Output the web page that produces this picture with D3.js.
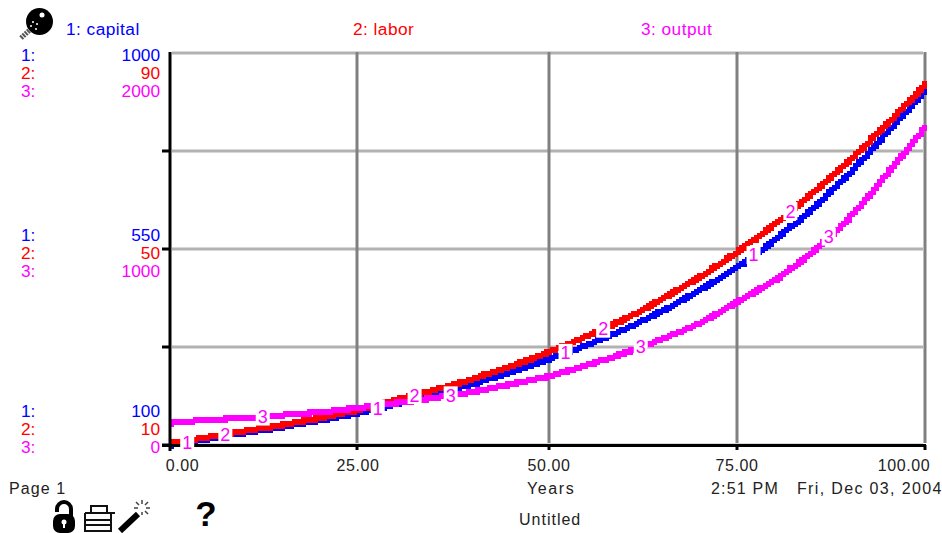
<!DOCTYPE html>
<html>
<head>
<meta charset="utf-8">
<script src="https://cdn.jsdelivr.net/npm/d3@7"></script>
<style>
    html, body { margin: 0; padding: 0; background: #fff; }
    svg { display: block; }
    text { font-family: "Liberation Sans", Arial, sans-serif; font-size: 17.3px; }
</style>
</head>
<body>
<script>
const years = [0, 5, 10, 15, 20, 25, 30, 35, 40, 45, 50, 55, 60, 65, 70, 75, 80, 85, 90, 95, 100];
const capital = [100, 114, 128, 141, 157, 173, 194, 217, 240, 268, 297, 330, 366, 408, 456, 509, 571, 644, 725, 819, 915];
const labor = [10.4, 11.6, 12.9, 14.1, 15.5, 17.1, 19.2, 21.2, 23.5, 26.1, 29.0, 32.2, 35.7, 39.8, 44.3, 49.4, 55.1, 61.4, 68.2, 75.7, 83.5];
const output = [112, 128, 138, 153, 168, 189, 214, 240, 270, 311, 352, 408, 469, 541, 622, 730, 842, 985, 1163, 1388, 1622];

const seriesNames = ['capital', 'labor', 'output'];
const seriesColors = ['#0000ff', '#ff0000', '#ff00ff'];
const seriesDomains = [[100, 1000], [10, 90], [0, 2000]];
const seriesValues = [capital, labor, output];
const axisLabels = [['1000', '550', '100'], ['90', '50', '10'], ['2000', '1000', '0']];
const xTicks = [0, 25, 50, 75, 100];
const yFractions = [0, 0.25, 0.5, 0.75, 1];
// the curve number is printed on its own line, one pass of 1 2 3 every 25 years
const markerYears = [[2.3, 27.7, 52.2, 77.2], [7.4, 32.5, 57.2, 82.1], [12.4, 37.2, 62.2, 87.2]];

const width = 942, height = 533;
const svg = d3.select('body').append('svg').attr('width', width).attr('height', height);

// the grid of the original is a few pixels off even spacing
const x = d3.scaleLinear().domain(xTicks).range([170, 357, 549, 737, 925]);
const yFrac = d3.scaleLinear().domain([0, 1]).range([445, 53]);
const yScales = seriesDomains.map(d => d3.scaleLinear().domain(d).range([445, 53]));

// grid
svg.append('g').selectAll('line')
    .data(yFractions)
    .enter().append('line')
    .attr('x1', 172).attr('x2', 923)
    .attr('y1', d => yFrac(d)).attr('y2', d => yFrac(d))
    .attr('stroke', '#b2b2b2').attr('stroke-width', 3);

svg.append('g').selectAll('line')
    .data(xTicks.slice(1))
    .enter().append('line')
    .attr('x1', d => x(d)).attr('x2', d => x(d))
    .attr('y1', 52).attr('y2', 443)
    .attr('stroke', '#808080').attr('stroke-width', 3);

// curves: walk the line and stamp a square pen, that gives the stairs of the original
const penW = 5, penH = 6;
function penPath(lineD) {
    const tmp = svg.append('path').attr('d', lineD);
    const node = tmp.node();
    const total = node.getTotalLength();
    let d = '';
    for (let l = 0; l <= total; l += 2) {
        const p = node.getPointAtLength(l);
        const px = Math.round(p.x / 3) * 3;
        const py = Math.round(p.y / 2) * 2;
        d += `M${px - penW / 2} ${py - penH / 2}h${penW}v${penH}h${-penW}z`;
    }
    tmp.remove();
    return d;
}

seriesValues.forEach((values, s) => {
    const line = d3.line()
        .x((d, i) => x(years[i]))
        .y(d => yScales[s](d))
        .curve(d3.curveMonotoneX);
    svg.append('path')
        .attr('d', penPath(line(values)))
        .attr('fill', seriesColors[s])
        .attr('shape-rendering', 'crispEdges');
});

// axes, drawn by hand because the ticks sit on the inside of the frame
const axis = svg.append('g').attr('stroke', '#000').attr('stroke-width', 3);
axis.append('line').attr('x1', 162).attr('x2', 926).attr('y1', 445.5).attr('y2', 445.5);
axis.append('line').attr('x1', 170).attr('x2', 170).attr('y1', 52).attr('y2', 451);
axis.selectAll('.ytick')
    .data(yFractions.slice(0, 4).map(d => yFrac(d)))
    .enter().append('line').attr('class', 'ytick')
    .attr('x1', 162).attr('x2', 170).attr('y1', d => d).attr('y2', d => d);
axis.selectAll('.xtick')
    .data(xTicks.slice(1))
    .enter().append('line').attr('class', 'xtick')
    .attr('x1', d => x(d)).attr('x2', d => x(d)).attr('y1', 445).attr('y2', 450);

// curve numbers, each one knocks a white box out of everything under it
function valueAt(values, t) {
    return d3.scaleLinear().domain(years).range(values)(t);
}
markerYears.forEach((list, s) => {
    list.forEach(t => {
        const mx = x(t);
        const my = yScales[s](valueAt(seriesValues[s], t));
        svg.append('rect')
            .attr('x', mx - 7).attr('y', my - 9)
            .attr('width', 14).attr('height', 18)
            .attr('fill', '#fff');
        svg.append('text')
            .attr('x', mx).attr('y', my + 6.5)
            .attr('text-anchor', 'middle')
            .attr('fill', seriesColors[2])
            .style('font-size', '18px')
            .text(s + 1);
    });
});

// legend on top
const legendX = [66, 353, 641];
seriesNames.forEach((name, s) => {
    svg.append('text')
        .attr('x', legendX[s]).attr('y', 35)
        .attr('fill', seriesColors[s])
        .style('letter-spacing', '0.45px')
        .text((s + 1) + ': ' + name);
});

// scale labels left of the axis
const blockTop = [61, 241, 417];
axisLabels.forEach((row, s) => {
    row.forEach((label, b) => {
        const ty = blockTop[b] + s * 18;
        svg.append('text').attr('x', 21).attr('y', ty)
            .attr('fill', seriesColors[s]).text((s + 1) + ':');
        svg.append('text').attr('x', 160).attr('y', ty)
            .attr('text-anchor', 'end')
            .attr('fill', seriesColors[s]).text(label);
    });
});

// x tick labels
const xLabelCenter = [182.5, 358, 549, 737, 904];
svg.selectAll('.xlabel')
    .data(xTicks)
    .enter().append('text').attr('class', 'xlabel')
    .attr('x', (d, i) => xLabelCenter[i]).attr('y', 471)
    .attr('text-anchor', 'middle')
    .attr('fill', '#222')
    .style('font-size', '16px')
    .style('letter-spacing', '0.6px')
    .text(d => d3.format('.2f')(d));

const footer = [
    {t: 'Page 1', x: 9, y: 494, ls: 1.1},
    {t: 'Years', x: 527, y: 494, ls: 1.6},
    {t: '2:51 PM', x: 711, y: 494, ls: 1.2},
    {t: 'Fri, Dec 03, 2004', x: 797, y: 494, ls: 1.35},
    {t: 'Untitled', x: 519, y: 525, ls: 1},
];
svg.selectAll('.foot')
    .data(footer)
    .enter().append('text').attr('class', 'foot')
    .attr('x', d => d.x).attr('y', d => d.y)
    .attr('fill', '#222')
    .style('font-size', '16px')
    .style('letter-spacing', d => d.ls + 'px')
    .text(d => d.t);

// toolbar icons
const pin = svg.append('g');
pin.append('line').attr('x1', 21).attr('y1', 38).attr('x2', 33).attr('y2', 27)
    .attr('stroke', '#555').attr('stroke-width', 5).attr('stroke-dasharray', '2 1');
pin.append('circle').attr('cx', 39.5).attr('cy', 21.5).attr('r', 13.5).attr('fill', '#000');
pin.append('circle').attr('cx', 42).attr('cy', 15).attr('r', 2.5).attr('fill', '#fff');
pin.selectAll('.spark')
    .data([[33, 22], [37, 24], [31, 26], [36, 29]])
    .enter().append('circle').attr('class', 'spark')
    .attr('cx', d => d[0]).attr('cy', d => d[1]).attr('r', 1).attr('fill', '#fff');

const lock = svg.append('g');
lock.append('path').attr('d', 'M57 512 v-3 a7 7 0 0 1 14 0 v7')
    .attr('fill', 'none').attr('stroke', '#000').attr('stroke-width', 4);
lock.append('rect').attr('x', 53).attr('y', 514).attr('width', 22).attr('height', 19).attr('rx', 7).attr('fill', '#000');
lock.append('circle').attr('cx', 64).attr('cy', 522).attr('r', 2.5).attr('fill', '#fff');
lock.append('rect').attr('x', 63).attr('y', 523).attr('width', 2).attr('height', 5).attr('fill', '#fff');

const printer = svg.append('g').attr('fill', 'none').attr('stroke', '#111').attr('stroke-width', 2);
printer.append('rect').attr('x', 91).attr('y', 506).attr('width', 16).attr('height', 7);
printer.append('path').attr('d', 'M85 513 h30 M85 513 v18 h26 v-18 M85 520 h26 M85 525 h26');

const wand = svg.append('g');
wand.append('line').attr('x1', 120).attr('y1', 531).attr('x2', 138).attr('y2', 514)
    .attr('stroke', '#000').attr('stroke-width', 6);
wand.append('path').attr('d', 'M142 500 v4 M142 512 v3 M134 508 h4 M146 508 h4 M136 502 l3 3 M148 502 l-3 3 M148 514 l-3 -3')
    .attr('stroke', '#444').attr('stroke-width', 1.5);

svg.append('text')
    .attr('x', 206).attr('y', 525.5)
    .attr('text-anchor', 'middle')
    .style('font-size', '35px').style('font-weight', 'bold')
    .attr('fill', '#000').text('?');
</script>
</body>
</html>
